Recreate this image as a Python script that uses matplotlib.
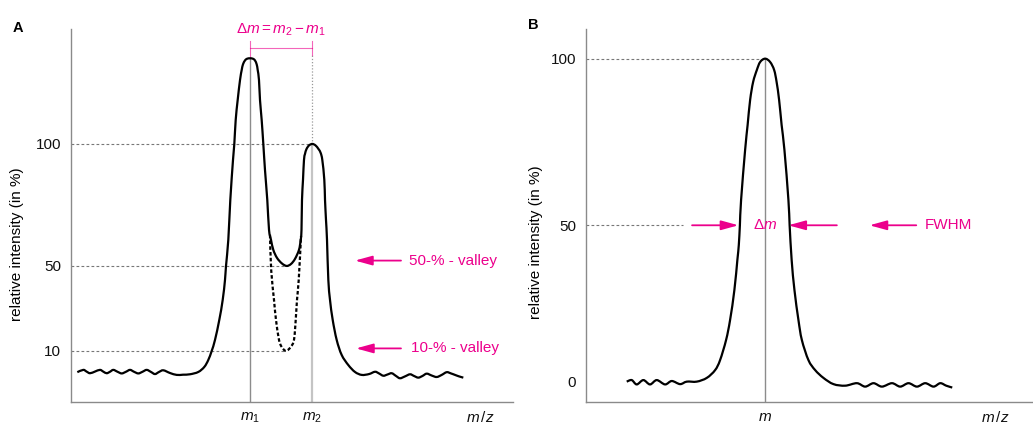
import numpy as np
import matplotlib
matplotlib.use("Agg")
import matplotlib.pyplot as plt
from matplotlib.path import Path
from matplotlib.patches import PathPatch

plt.rcParams['font.family'] = ['Liberation Sans', 'DejaVu Sans']
plt.rcParams['mathtext.fontset'] = 'custom'
plt.rcParams['mathtext.rm'] = 'Liberation Sans'
plt.rcParams['mathtext.it'] = 'Liberation Sans:italic'

MAGENTA = '#ec008c'
GRID = '#777777'

# ---- A: two partly resolved peaks (m/z arbitrary units, rel. intensity %)
a_mz = [1.43, 2.78, 3.51, 4.30, 5.43, 6.56, 7.35, 8.08, 8.82, 9.57, 10.52, 11.47, 12.44, 13.35,
        14.25, 15.23, 16.18, 17.13, 18.10, 19.00, 19.91, 20.88, 22.40, 23.91, 25.34, 26.92,
        28.80, 30.16, 31.06, 31.83, 32.58, 33.55, 34.32, 34.84, 35.07, 35.59, 36.04, 36.65,
        36.95, 37.26, 37.71, 38.24, 38.62, 38.91, 39.36, 39.82, 40.50,
        41.18, 41.63, 42.01, 42.24, 42.53, 42.76, 43.14, 43.51, 43.89, 44.41, 44.80, 45.25, 45.77,
        46.61, 47.74, 48.80, 49.77, 50.68, 51.58, 51.97, 52.15, 52.26, 52.49, 52.71, 52.94, 53.28,
        53.85, 54.59,
        55.32, 56.00, 56.49, 56.86, 57.31, 57.47, 57.69, 57.92, 58.22, 58.60, 59.21, 60.11, 61.24,
        62.74, 64.25, 65.77,
        67.42, 68.78, 69.68, 70.66, 71.61, 72.56, 73.53, 74.43, 75.57, 76.70, 77.60, 78.57, 79.52,
        80.48, 81.61, 82.74, 83.87, 85.00, 85.97, 86.88, 87.78, 88.76]
a_int = [-0.1, 1.0, 0.2, -0.6, 0.2, 1.0, 0.1, -0.6, 0.1, 1.0, 0.1, -0.7, 0.1, 1.0,
         0.1, -0.7, 0.1, 1.0, 0.0, -1.0, 0.0, 0.8, -0.5, -1.4, -1.3, -1.1,
         0.0, 2.4, 5.7, 10.0, 15.2, 24.6, 34.0, 43.4, 50.0, 60.7, 77.0, 93.4,
         100.0, 109.8, 118.0, 126.2, 130.3, 132.6, 134.2, 134.9, 135.1,
         134.9, 134.2, 132.6, 130.3, 126.2, 118.0, 109.8, 100.0, 89.3, 77.0, 64.8, 60.7, 56.6,
         53.3, 51.0, 50.0, 50.8, 52.9, 56.6, 60.7, 64.8, 77.0, 85.3, 93.4, 95.9, 97.9,
         99.4, 100.0,
         99.4, 97.9, 96.3, 93.4, 85.3, 77.0, 68.9, 60.7, 43.4, 34.0, 24.6, 15.2, 8.1,
         3.3, 0.0, -1.4,
         -1.0, 0.1, -0.7, -1.8, -1.2, -0.6, -1.9, -3.0, -2.1, -1.1, -1.9, -2.7, -1.9,
         -0.8, -1.7, -2.4, -1.4, -0.1, -0.7, -1.4, -2.1, -2.7]

# deeper valley (10 %) between the two peaks
a_valley_mz = [45.02, 45.29, 45.93, 46.38, 47.06, 47.67, 48.64, 49.71, 50.45, 50.84, 51.13, 51.52, 52.04]
a_valley_int = [62.8, 48.1, 34.0, 24.6, 15.2, 11.9, 10.0, 11.9, 15.2, 24.6, 34.0, 43.4, 62.3]

a_m1, a_m2 = 40.50, 54.59
a_mz_label = 92.5
a_ticks = [10, 50, 100]
a_valley_min_mz = 48.7

# intensity axis of the sketch is not linear: value -> height along the axis
a_axis_vals = [0, 10, 50, 100]
a_axis_pos = [30, 51, 136, 258]

# ---- B: single peak, FWHM
b_mz = [9.17, 10.29, 11.41, 12.89, 14.38, 15.88, 17.74, 19.24, 21.10, 22.60, 24.83,
        27.07, 28.93, 30.04, 31.39, 32.28, 33.24, 33.91, 34.23, 34.47, 34.74,
        35.64, 36.20, 36.76, 37.43, 38.26, 39.00, 40.11, 41.23, 42.13, 42.68,
        43.24, 43.80, 44.43, 45.32, 45.59, 46.04, 46.67, 47.56, 48.32, 49.80,
        51.30, 53.15, 55.39,
        58.01, 60.63, 62.48, 64.34, 66.22, 68.46, 70.31, 72.17, 74.05, 75.91, 77.76, 79.26, 80.60, 81.95]
b_int = [-0.2, 0.3, -1.1, 0.3, -1.1, 0.3, -1.1, 0.0, -1.0, -0.2, -0.2,
         1.0, 3.5, 6.7, 13.2, 19.6, 29.2, 38.9, 43.7, 50.0, 57.6,
         72.6, 80.1, 87.6, 93.0, 96.6, 99.0, 100.0, 99.0, 96.6, 93.0,
         87.6, 80.1, 72.6, 57.6, 50.0, 38.9, 29.2, 19.6, 13.2, 6.7,
         3.5, 1.0, -1.0,
         -1.5, -0.7, -1.8, -0.7, -1.8, -0.7, -1.8, -0.7, -1.8, -0.7, -1.8, -0.7, -1.5, -2.1]

b_m = 40.11
b_mz_label = 91.6
b_ticks = [0, 50, 100]
b_half_left, b_half_right = 34.14, 45.30

b_axis_vals = [0, 50, 100]
b_axis_pos = [21, 176.7, 343.3]


def stretch_yaxis(ax, vals, pos, lo, hi):
    # piecewise linear intensity axis, continued with the end slopes
    v = np.asarray(vals, float)
    p = np.asarray(pos, float)
    s0 = (p[1] - p[0]) / (v[1] - v[0])
    s1 = (p[-1] - p[-2]) / (v[-1] - v[-2])
    v = np.concatenate([[v[0] - 1000], v, [v[-1] + 1000]])
    p = np.concatenate([[p[0] - 1000 * s0], p, [p[-1] + 1000 * s1]])
    ax.set_yscale('function', functions=(lambda y: np.interp(y, v, p),
                                         lambda u: np.interp(u, p, v)))
    ax.set_ylim(lo, hi)


def style_axes(ax, ticks, xticks, xlabels):
    for s in ('top', 'right'):
        ax.spines[s].set_visible(False)
    for s in ('left', 'bottom'):
        ax.spines[s].set_color('#8a8a8a')
        ax.spines[s].set_linewidth(1.0)
    ax.set_xlim(0, 100)
    ax.set_yticks(ticks)
    ax.set_yticklabels([str(t) for t in ticks])
    ax.set_xticks(xticks)
    ax.set_xticklabels(xlabels)
    ax.tick_params(axis='y', length=0, pad=7, labelsize=11, labelcolor='#111111')
    ax.tick_params(axis='x', length=0, pad=6, labelsize=11, labelcolor='#111111')
    ax.minorticks_off()


def smooth_curve(ax, x, y, **kw):
    # pass a Catmull-Rom spline through the points (as cubic Bezier pieces)
    p = np.column_stack([x, y]).astype(float)
    ext = np.vstack([p[0], p, p[-1]])
    verts = [p[0]]
    codes = [Path.MOVETO]
    for i in range(len(p) - 1):
        p0, p1, p2, p3 = ext[i], ext[i + 1], ext[i + 2], ext[i + 3]
        verts += [p1 + (p2 - p0) / 6, p2 - (p3 - p1) / 6, p2]
        codes += [Path.CURVE4] * 3
    ax.add_patch(PathPatch(Path(verts, codes), fill=False, **kw))


def hline(ax, y, x1):
    ax.plot([0, x1], [y, y], color=GRID, lw=0.8, ls=(0, (2.5, 2)))


def arrow(ax, tip, tail, y):
    ax.annotate('', xy=(tip, y), xytext=(tail, y),
                arrowprops=dict(arrowstyle='-|>,head_length=0.8,head_width=0.22',
                                color=MAGENTA, lw=1.3, shrinkA=0, shrinkB=0,
                                mutation_scale=13))


fig = plt.figure(figsize=(10.33, 4.24), dpi=100)
ax_a = fig.add_axes([71 / 1033, 22 / 424, 442 / 1033, 373 / 424])
ax_b = fig.add_axes([585.7 / 1033, 22 / 424, 447.3 / 1033, 373 / 424])

# ---------------- panel A
stretch_yaxis(ax_a, a_axis_vals, a_axis_pos, -14.3, 147.1)
style_axes(ax_a, a_ticks, [a_m1, a_m2, a_mz_label],
           [r'$m_1$', r'$m_2$', r'$m\,/z$'])

hline(ax_a, 100, a_m2)
hline(ax_a, 50, a_valley_min_mz)
hline(ax_a, 10, a_valley_min_mz)

a_peak1 = max(a_int)
ax_a.plot([a_m1, a_m1], [-14.3, a_peak1], color='#8c8c8c', lw=1.0, zorder=1)
ax_a.plot([a_m2, a_m2], [-14.3, 100], color='#c4c4c4', lw=1.6, zorder=1)
ax_a.plot([a_m2, a_m2], [100, 136.5], color='#9a9a9a', lw=0.9, ls=(0, (1, 1.5)), zorder=1)

smooth_curve(ax_a, a_mz, a_int, edgecolor='black', lw=1.6, joinstyle='round', zorder=3)
smooth_curve(ax_a, a_valley_mz, a_valley_int, edgecolor='black', lw=1.6,
             ls=(0, (1.6, 1.0)), zorder=3)

# Δm bracket between m1 and m2
ax_a.plot([a_m1, a_m2], [139.5, 139.5], color=MAGENTA, lw=0.8, alpha=0.6, clip_on=False)
ax_a.plot([a_m1, a_m1], [135.8, 142.0], color=MAGENTA, lw=0.8, alpha=0.6, clip_on=False)
ax_a.plot([a_m2, a_m2], [136.5, 142.0], color=MAGENTA, lw=0.8, alpha=0.6, clip_on=False)
ax_a.annotate(r'$\Delta m = m_2 - m_1$', xy=((a_m1 + a_m2) / 2, 0.998),
              xycoords=('data', 'axes fraction'), ha='center', va='center',
              color=MAGENTA, fontsize=11, annotation_clip=False)

arrow(ax_a, 64.25, 74.66, 52.2)
ax_a.text(76.5, 52.2, '50-% - valley', color=MAGENTA, fontsize=11, va='center')
arrow(ax_a, 64.48, 74.66, 11.2)
ax_a.text(76.9, 11.2, '10-% - valley', color=MAGENTA, fontsize=11, va='center')

ax_a.set_ylabel('relative intensity (in %)', fontsize=11, va='center')
ax_a.yaxis.set_label_coords(-0.122, 0.424)

# ---------------- panel B
stretch_yaxis(ax_b, b_axis_vals, b_axis_pos, -6.74, 108.9)
style_axes(ax_b, b_ticks, [b_m, b_mz_label], [r'$m$', r'$m\,/z$'])

hline(ax_b, 100, b_m)
hline(ax_b, 50, 21.77)

ax_b.plot([b_m, b_m], [-6.74, max(b_int)], color='#8c8c8c', lw=1.0, zorder=1)
smooth_curve(ax_b, b_mz, b_int, edgecolor='black', lw=1.6, joinstyle='round', zorder=3)

arrow(ax_b, b_half_left, 23.78, 50)
arrow(ax_b, b_half_right, 56.15, 50)
ax_b.text(b_m, 50, r'$\Delta m$', color=MAGENTA, fontsize=11, ha='center', va='center', zorder=4)
arrow(ax_b, 63.45, 73.9, 50)
ax_b.text(75.9, 50, 'FWHM', color=MAGENTA, fontsize=11, va='center')

ax_b.set_ylabel('relative intensity (in %)', fontsize=11, va='center')
ax_b.yaxis.set_label_coords(-0.1116, 0.428)

fig.text(18 / 1033, 1 - 28 / 424, 'A', fontsize=10.5, fontweight='bold', ha='center', va='center')
fig.text(533 / 1033, 1 - 25 / 424, 'B', fontsize=10.5, fontweight='bold', ha='center', va='center')

fig.savefig('out.png', dpi=100)
